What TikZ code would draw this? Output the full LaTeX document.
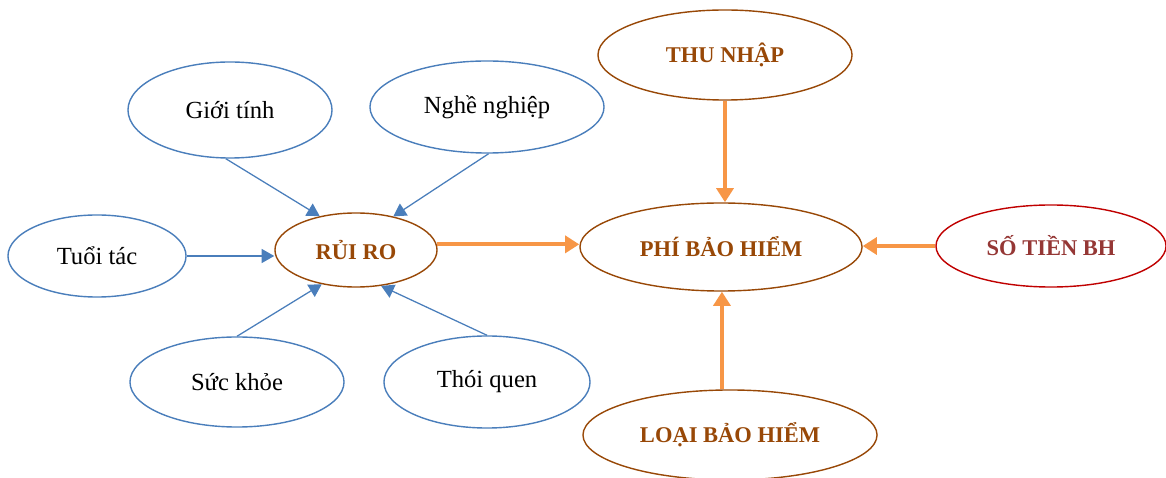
\documentclass[tikz,border=0pt]{standalone}
\usepackage{fontspec}
\setmainfont{Liberation Serif}
\usetikzlibrary{arrows.meta,shapes.geometric}
\definecolor{factor}{HTML}{4A7EBB}
\definecolor{core}{HTML}{984807}
\definecolor{link}{HTML}{F79646}
\definecolor{amount}{HTML}{C00000}
\definecolor{amounttext}{HTML}{953735}

\begin{document}
\begin{tikzpicture}[x=0.025cm,y=-0.025cm,
    factor/.style={ellipse,draw=factor,line width=1pt,fill=white,inner sep=0pt,font=\fontsize{17.5}{20}\selectfont},
    key/.style={ellipse,draw=core,line width=1pt,fill=white,inner sep=0pt,text=core,font=\fontsize{16}{19}\selectfont\bfseries},
    thin arrow/.style={-{Triangle[length=9pt,width=10pt]},factor,line width=0.9pt},
    thick arrow/.style={-{Triangle[length=10pt,width=12pt]},link,line width=2.8pt}]
  \useasboundingbox (0,0) rectangle (1166,478);

  % Risk factors
  \node[factor,minimum width=5.1cm,minimum height=2.4cm] (gioitinh) at (230,110) {Giới tính};
  \node[factor,minimum width=5.85cm,minimum height=2.3cm] (nghenghiep) at (487,107) {Nghề nghiệp};
  \node[factor,minimum width=4.45cm,minimum height=2.05cm] (tuoitac) at (97,256) {Tuổi tác};
  \node[factor,minimum width=5.35cm,minimum height=2.25cm] (suckhoe) at (237,382) {Sức khỏe};
  \node[factor,minimum width=5.15cm,minimum height=2.3cm] (thoiquen) at (487,382) {Thói quen};

  % Premium drivers
  \node[key,minimum width=4.05cm,minimum height=1.85cm] (ruiro) at (356,250) {RỦI RO};
  \node[key,minimum width=7.05cm,minimum height=2.2cm] (phibh) at (721,247) {PHÍ BẢO HIỂM};
  \node[key,minimum width=6.35cm,minimum height=2.25cm] (thunhap) at (725,55) {THU NHẬP};
  \node[key,minimum width=7.35cm,minimum height=2.25cm] (loaibh) at (730,435) {LOẠI BẢO HIỂM};
  \node[key,draw=amount,text=amounttext,minimum width=5.75cm,minimum height=2.05cm] (sotien) at (1051,246) {SỐ TIỀN BH};

  % Arrows
  \draw[thin arrow] (gioitinh.-95) -- (ruiro.137);
  \draw[thin arrow] (nghenghiep.-88) -- (ruiro.42);
  \draw[thin arrow] (tuoitac.east) -- (tuoitac.east -| ruiro.west);
  \draw[thin arrow] (suckhoe.90) -- (ruiro.-135);
  \draw[thin arrow] (thoiquen.90) -- (ruiro.-55);

  \draw[thick arrow] (ruiro.4) -- (ruiro.4 -| phibh.west);
  \draw[thick arrow] (thunhap.south) -- (thunhap.south |- phibh.north);
  \draw[thick arrow] (sotien.west) -- (sotien.west -| phibh.east);
  \draw[thick arrow] (loaibh.100) -- (loaibh.100 |- phibh.south);
\end{tikzpicture}
\end{document}
